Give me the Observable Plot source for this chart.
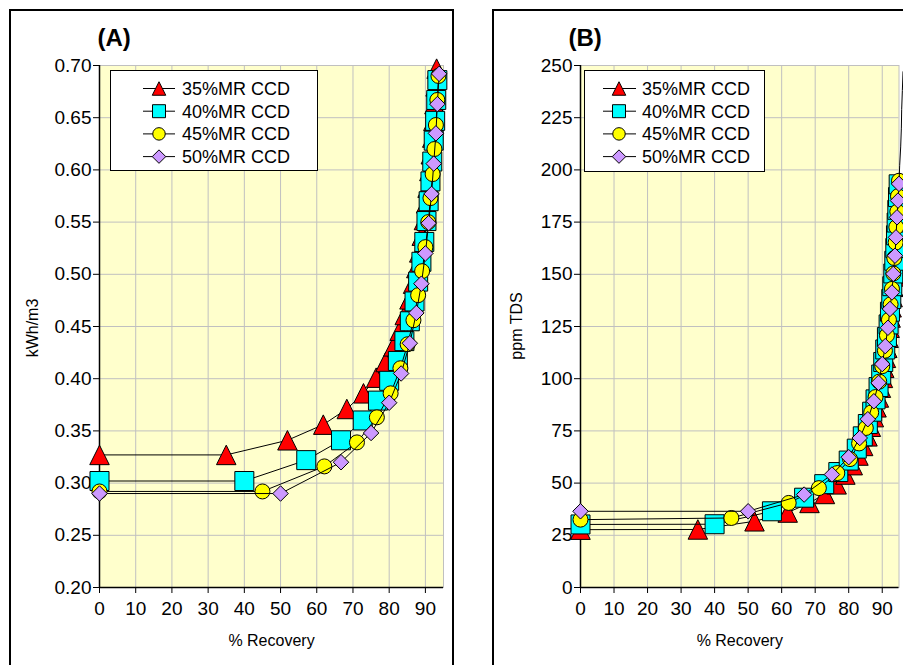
<!DOCTYPE html>
<html>
<head>
<meta charset="utf-8">
<script src="https://cdn.jsdelivr.net/npm/d3@7"></script>
<script src="https://cdn.jsdelivr.net/npm/@observablehq/plot@0.6"></script>
<style>
html, body { margin: 0; padding: 0; background: #fff; }
body { width: 903px; height: 665px; overflow: hidden; position: relative; font-family: "Liberation Sans", Arial, sans-serif; }
.frame { position: absolute; border: 2px solid #000; box-sizing: border-box; }
.chart { position: absolute; top: 0; }
.chart svg { max-width: none !important; display: block; }
.legend { position: absolute; background: #fff; border: 1px solid #000; box-sizing: border-box; }
.legend svg { position: absolute; left: -1px; top: -1px; overflow: visible; }
.ylab { position: absolute; font-size: 16px; white-space: nowrap; color: #000; transform: translate(-50%, -50%) rotate(-90deg); }
</style>
</head>
<body>
<div class="frame" style="left:9px;top:9px;width:445px;height:720px"></div>
<div class="frame" style="left:492px;top:9px;width:520px;height:720px"></div>
<div id="chartA" class="chart" style="left:0px;width:460px"></div>
<div id="chartB" class="chart" style="left:480px;width:440px"></div>
<div class="ylab" style="left:33px;top:328px">kWh/m3</div>
<div class="ylab" style="left:517px;top:326px">ppm TDS</div>
<div id="legA" class="legend" style="left:110px;top:70px;width:208px;height:101px"></div>
<div id="legB" class="legend" style="left:584px;top:70px;width:181px;height:102px"></div>
<script>
// ---------- data ----------
const seriesNames = ["35%MR CCD", "40%MR CCD", "45%MR CCD", "50%MR CCD"];

// % recovery of each point
const rec35 = [0, 35.0, 51.9, 61.8, 68.3, 72.9, 76.4, 79.0, 81.2, 82.9, 84.3, 85.6, 86.6, 87.5, 88.3, 89.0, 89.6, 90.2, 90.6, 91.1, 91.5, 91.9, 92.2, 92.5, 92.8, 93.1, 93.3, 93.6, 93.8, 94.0, 94.2, 94.3, 94.5, 94.7, 94.8, 95.0];
const rec40 = [0, 40.0, 57.1, 66.7, 72.7, 76.9, 80.0, 82.4, 84.2, 85.7, 87.0, 88.0, 88.9, 89.7, 90.3, 90.9, 91.4, 91.9, 92.3, 92.7, 93.0, 93.3, 93.6, 93.9, 94.1, 94.3, 94.5, 94.7, 94.9];
const rec45 = [0, 45.0, 62.1, 71.1, 76.6, 80.4, 83.1, 85.1, 86.7, 88.0, 89.1, 90.0, 90.8, 91.4, 92.0, 92.5, 92.9, 93.3, 93.6, 94.0, 94.2, 94.5, 94.7, 95.0];
const rec50 = [0, 50.0, 66.7, 75.0, 80.0, 83.3, 85.7, 87.5, 88.9, 90.0, 90.9, 91.7, 92.3, 92.9, 93.3, 93.8, 94.1, 94.4, 94.7, 95.0, 95.2, 95.5, 95.7, 95.8, 96.0, 96.2];

// (A) specific energy, kWh/m3
const kwh35 = [0.327, 0.327, 0.341, 0.356, 0.371, 0.386, 0.401, 0.416, 0.431, 0.446, 0.461, 0.476, 0.491, 0.506, 0.521, 0.537, 0.552, 0.568, 0.583, 0.599, 0.615, 0.631, 0.647, 0.663, 0.680, 0.697];
const kwh40 = [0.302, 0.302, 0.322, 0.341, 0.360, 0.379, 0.398, 0.417, 0.436, 0.455, 0.474, 0.493, 0.512, 0.531, 0.551, 0.570, 0.589, 0.608, 0.628, 0.647, 0.667, 0.686];
const kwh45 = [0.292, 0.292, 0.316, 0.339, 0.363, 0.386, 0.410, 0.433, 0.456, 0.480, 0.503, 0.526, 0.550, 0.573, 0.596, 0.620, 0.643, 0.667, 0.690];
const kwh50 = [0.290, 0.290, 0.320, 0.348, 0.377, 0.405, 0.434, 0.463, 0.491, 0.520, 0.549, 0.577, 0.606, 0.635, 0.663, 0.692];

// (B) permeate ppm TDS
const tds35 = [27.7, 27.8, 31.7, 35.9, 40.5, 44.8, 49.4, 54.1, 58.6, 63.2, 67.8, 72.4, 77.0, 81.6, 86.3, 91.0, 95.7, 100.4, 105.2, 110.0, 114.8, 119.6, 124.4, 129.3, 134.2, 139.1, 144.0, 149.0, 154.0, 159.0, 164.0, 169.1, 174.2, 179.3, 184.4, 189.5];
const tds40 = [30.2, 30.3, 36.5, 43.0, 49.5, 55.3, 60.8, 66.5, 72.4, 78.3, 84.2, 90.1, 96.0, 102.0, 108.0, 114.0, 120.0, 126.0, 132.1, 138.2, 144.3, 150.4, 156.5, 162.6, 168.7, 174.8, 180.9, 187.0, 193.1];
const tds45 = [32.5, 33.3, 40.5, 47.6, 54.8, 61.5, 69.0, 76.4, 83.8, 91.2, 98.6, 106.0, 113.4, 120.8, 128.2, 135.6, 143.0, 150.4, 157.8, 165.2, 172.6, 180.0, 187.4, 194.8];
const tds50 = [36.5, 36.5, 44.5, 54.1, 62.4, 71.6, 80.6, 89.2, 98.0, 107.0, 115.6, 124.4, 133.4, 141.3, 150.2, 158.9, 167.7, 177.3, 185.3, 193.3, 202, 211, 220, 229, 238, 247];

// tick values
const xTicks = [0, 10, 20, 30, 40, 50, 60, 70, 80, 90];
const yTicksA = [0.20, 0.25, 0.30, 0.35, 0.40, 0.45, 0.50, 0.55, 0.60, 0.65, 0.70];
const yTicksB = [0, 25, 50, 75, 100, 125, 150, 175, 200, 225, 250];

// ---------- styling ----------
const FONT = "'Liberation Sans', Arial, sans-serif";
const NARROW = "'Liberation Sans Narrow', 'Arial Narrow', 'Liberation Sans', Arial, sans-serif";
const sym = {
  tri: {draw(c, size) { const s = Math.sqrt(size); c.moveTo(0, -s / 2); c.lineTo(s / 2, s / 2); c.lineTo(-s / 2, s / 2); c.closePath(); }},
  sq: {draw(c, size) { const s = Math.sqrt(size); c.rect(-s / 2, -s / 2, s, s); }},
  circ: {draw(c, size) { const r = Math.sqrt(size) / 2; c.moveTo(r, 0); c.arc(0, 0, r, 0, 2 * Math.PI); }},
  dia: {draw(c, size) { const s = Math.sqrt(size); c.moveTo(0, -s / 2); c.lineTo(s / 2, 0); c.lineTo(0, s / 2); c.lineTo(-s / 2, 0); c.closePath(); }}
};
const styles = [
  {symbol: sym.tri, fill: "#ff0000", box: 19.5, legBox: 13.5},
  {symbol: sym.sq, fill: "#00ffff", box: 19, legBox: 13},
  {symbol: sym.circ, fill: "#ffff00", box: 15, legBox: 12.5},
  {symbol: sym.dia, fill: "#cc99ff", box: 15.5, legBox: 13.5}
];
const rOf = s => s / Math.sqrt(Math.PI);
const XMAX = 95;

function rows(xs, ys) { return ys.map((y, i) => ({x: xs[i], y})); }

function panel(opts) {
  const marks = [
    Plot.frame({fill: "#ffffcc", stroke: "none"}),
    Plot.gridX(xTicks, {stroke: "#c0c0c0", strokeOpacity: 1, strokeWidth: 1}),
    Plot.gridY(opts.yTicks, {stroke: "#c0c0c0", strokeOpacity: 1, strokeWidth: 1}),
    Plot.frame({stroke: "#c0c0c0", fill: "none"}),
    Plot.axisX(xTicks, {tickSize: 6, tickPadding: 8, fontSize: 19, fontFamily: NARROW, label: null, tickFormat: d => String(d)}),
    Plot.axisY(opts.yTicks, {tickSize: 6, tickPadding: 2, fontSize: 19, fontFamily: FONT, label: null, tickFormat: opts.yFormat}),
    Plot.ruleX([0], {stroke: "black", strokeWidth: 1.5}),
    Plot.ruleY([opts.yDomain[0]], {stroke: "black", strokeWidth: 1.5})
  ];
  opts.series.forEach((data, i) => {
    const st = styles[i];
    marks.push(Plot.line(data, {x: "x", y: "y", stroke: "black", strokeWidth: 1}));
    marks.push(Plot.dot(data.filter(d => d.x <= XMAX), {x: "x", y: "y", symbol: st.symbol, r: rOf(st.box), fill: st.fill, stroke: "black", strokeWidth: 1}));
  });
  marks.push(Plot.text([opts.title], {frameAnchor: "top-left", dx: opts.titleDx, dy: -20, textAnchor: "start", lineAnchor: "bottom", fontSize: 24, fontWeight: "bold", fill: "black"}));
  marks.push(Plot.text(["% Recovery"], {frameAnchor: "bottom", dy: 58, fontSize: 16, fill: "black"}));
  return Plot.plot({
    width: opts.width, height: 665,
    marginTop: 65, marginBottom: 78, marginLeft: opts.marginLeft, marginRight: opts.marginRight,
    x: {domain: [0, XMAX]},
    y: {domain: opts.yDomain},
    style: {fontFamily: FONT, fontSize: "18px", color: "black", background: "transparent", overflow: "visible", maxWidth: "none"},
    marks
  });
}

const chartA = panel({
  width: 460, marginLeft: 99, marginRight: 17,
  yDomain: [0.2, 0.7], yTicks: yTicksA, yFormat: d3.format(".2f"),
  title: "(A)", titleDx: -2,
  series: [rows(rec35, kwh35), rows(rec40, kwh40), rows(rec45, kwh45), rows(rec50, kwh50)]
});
document.getElementById("chartA").appendChild(chartA);

const chartB = panel({
  width: 440, marginLeft: 100, marginRight: 21.5,
  yDomain: [0, 250], yTicks: yTicksB, yFormat: d => String(d),
  title: "(B)", titleDx: -12,
  series: [rows(rec35, tds35), rows(rec40, tds40), rows(rec45, tds45), rows(rec50, tds50)]
});
document.getElementById("chartB").appendChild(chartB);

// ---------- legends ----------
function legend(id, w, h, mx, lx1, lx2, tx) {
  const svg = d3.select("#" + id).append("svg").attr("width", w).attr("height", h);
  seriesNames.forEach((name, i) => {
    const cy = 18.5 + i * 22.7;
    const st = styles[i];
    svg.append("line").attr("x1", lx1).attr("x2", lx2).attr("y1", cy).attr("y2", cy).attr("stroke", "black").attr("stroke-width", 1);
    svg.append("path").attr("d", d3.symbol().type(st.symbol).size(st.legBox * st.legBox)())
      .attr("transform", `translate(${mx},${cy})`).attr("fill", st.fill).attr("stroke", "black").attr("stroke-width", 1);
    svg.append("text").attr("x", tx).attr("y", cy + 6.5).attr("font-family", FONT).attr("font-size", 18).attr("fill", "black").text(name);
  });
}
legend("legA", 208, 101, 49, 33, 65, 72);
legend("legB", 181, 102, 35, 19, 52, 58);
</script>
</body>
</html>
